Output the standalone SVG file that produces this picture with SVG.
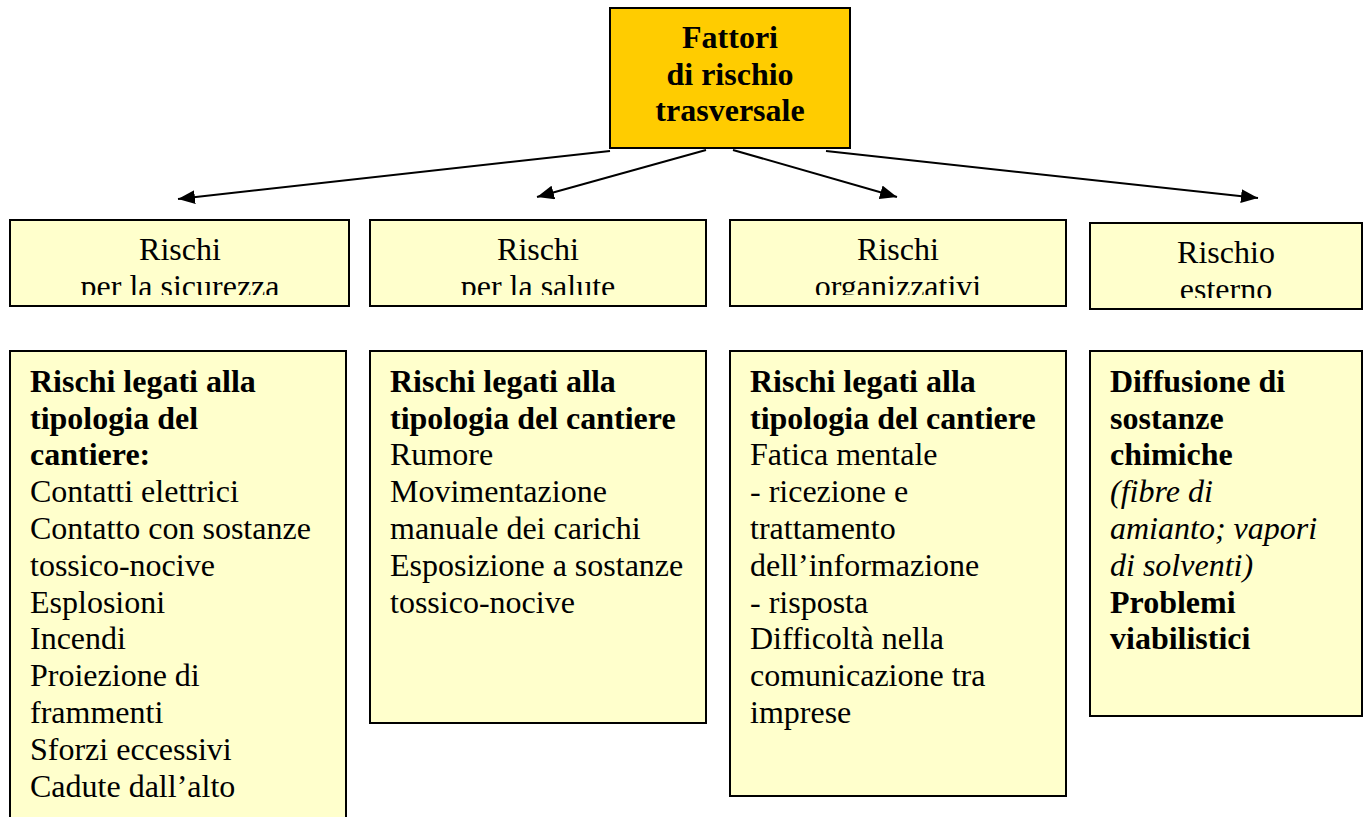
<svg xmlns="http://www.w3.org/2000/svg" width="1366" height="817" viewBox="0 0 1366 817">
<defs>
<style>
.box{fill:#FFFFCC;stroke:#000;stroke-width:2}
.title{fill:#FFCC00;stroke:#000;stroke-width:2}
text{font-family:"Liberation Serif","Times New Roman",serif;font-size:32px;fill:#000}
.b{font-weight:bold}
.i{font-style:italic}
.c{text-anchor:middle}
.conn{stroke:#000;stroke-width:2;fill:none;marker-end:url(#arr)}
</style>
<marker id="arr" viewBox="0 0 10 10" refX="10" refY="5" markerWidth="17" markerHeight="14" markerUnits="userSpaceOnUse" orient="auto" preserveAspectRatio="none">
<path d="M0,0 L10,5 L0,10 z" fill="#000"/>
</marker>
<clipPath id="c1"><rect x="10" y="220" width="340" height="75"/></clipPath>
<clipPath id="c2"><rect x="370" y="220" width="337" height="75"/></clipPath>
<clipPath id="c3"><rect x="730" y="220" width="337" height="75"/></clipPath>
<clipPath id="c4"><rect x="1090" y="223" width="273" height="75"/></clipPath>
</defs>
<rect width="1366" height="817" fill="#fff"/>

<g id="title">
<rect class="title" x="610" y="8" width="240" height="140"/>
<text class="b c" x="730" y="48">Fattori</text>
<text class="b c" x="730" y="85">di rischio</text>
<text class="b c" x="730" y="121">trasversale</text>
</g>

<g id="connectors">
<path class="conn" d="M610,151 L178,199"/>
<path class="conn" d="M706,150 L537,197"/>
<path class="conn" d="M733,150 L897,197"/>
<path class="conn" d="M826,151 L1258,198"/>
</g>

<g id="h1">
<rect class="box" x="10" y="220" width="339" height="86"/>
<g clip-path="url(#c1)">
<text class="c" x="180" y="260">Rischi</text>
<text class="c" x="180" y="297">per la sicurezza</text>
</g>
</g>
<g id="h2">
<rect class="box" x="370" y="220" width="336" height="86"/>
<g clip-path="url(#c2)">
<text class="c" x="538" y="260">Rischi</text>
<text class="c" x="538" y="297">per la salute</text>
</g>
</g>
<g id="h3">
<rect class="box" x="730" y="220" width="336" height="86"/>
<g clip-path="url(#c3)">
<text class="c" x="898" y="260">Rischi</text>
<text class="c" x="898" y="297">organizzativi</text>
</g>
</g>
<g id="h4">
<rect class="box" x="1090" y="223" width="272" height="86"/>
<g clip-path="url(#c4)">
<text class="c" x="1226" y="263">Rischio</text>
<text class="c" x="1226" y="300">esterno</text>
</g>
</g>

<g id="d1">
<rect class="box" x="10" y="351" width="336" height="480"/>
<text x="30" y="392" class="b">Rischi legati alla</text>
<text x="30" y="429" class="b">tipologia del</text>
<text x="30" y="465" class="b">cantiere:</text>
<text x="30" y="502">Contatti elettrici</text>
<text x="30" y="539">Contatto con sostanze</text>
<text x="30" y="576">tossico-nocive</text>
<text x="30" y="613">Esplosioni</text>
<text x="30" y="649">Incendi</text>
<text x="30" y="686">Proiezione di</text>
<text x="30" y="723">frammenti</text>
<text x="30" y="760">Sforzi eccessivi</text>
<text x="30" y="797">Cadute dall’alto</text>
</g>

<g id="d2">
<rect class="box" x="370" y="351" width="336" height="372"/>
<text x="390" y="392" class="b">Rischi legati alla</text>
<text x="390" y="429" class="b">tipologia del cantiere</text>
<text x="390" y="465">Rumore</text>
<text x="390" y="502">Movimentazione</text>
<text x="390" y="539">manuale dei carichi</text>
<text x="390" y="576">Esposizione a sostanze</text>
<text x="390" y="613">tossico-nocive</text>
</g>

<g id="d3">
<rect class="box" x="730" y="351" width="336" height="445"/>
<text x="750" y="392" class="b">Rischi legati alla</text>
<text x="750" y="429" class="b">tipologia del cantiere</text>
<text x="750" y="465">Fatica mentale</text>
<text x="750" y="502">- ricezione e</text>
<text x="750" y="539">trattamento</text>
<text x="750" y="576">dell’informazione</text>
<text x="750" y="613">- risposta</text>
<text x="750" y="649">Difficoltà nella</text>
<text x="750" y="686">comunicazione tra</text>
<text x="750" y="723">imprese</text>
</g>

<g id="d4">
<rect class="box" x="1090" y="351" width="272" height="365"/>
<text x="1110" y="392" class="b">Diffusione di</text>
<text x="1110" y="429" class="b">sostanze</text>
<text x="1110" y="465" class="b">chimiche</text>
<text x="1110" y="502" class="i">(fibre di</text>
<text x="1110" y="539" class="i">amianto; vapori</text>
<text x="1110" y="576" class="i">di solventi)</text>
<text x="1110" y="613" class="b">Problemi</text>
<text x="1110" y="649" class="b">viabilistici</text>
</g>
</svg>
